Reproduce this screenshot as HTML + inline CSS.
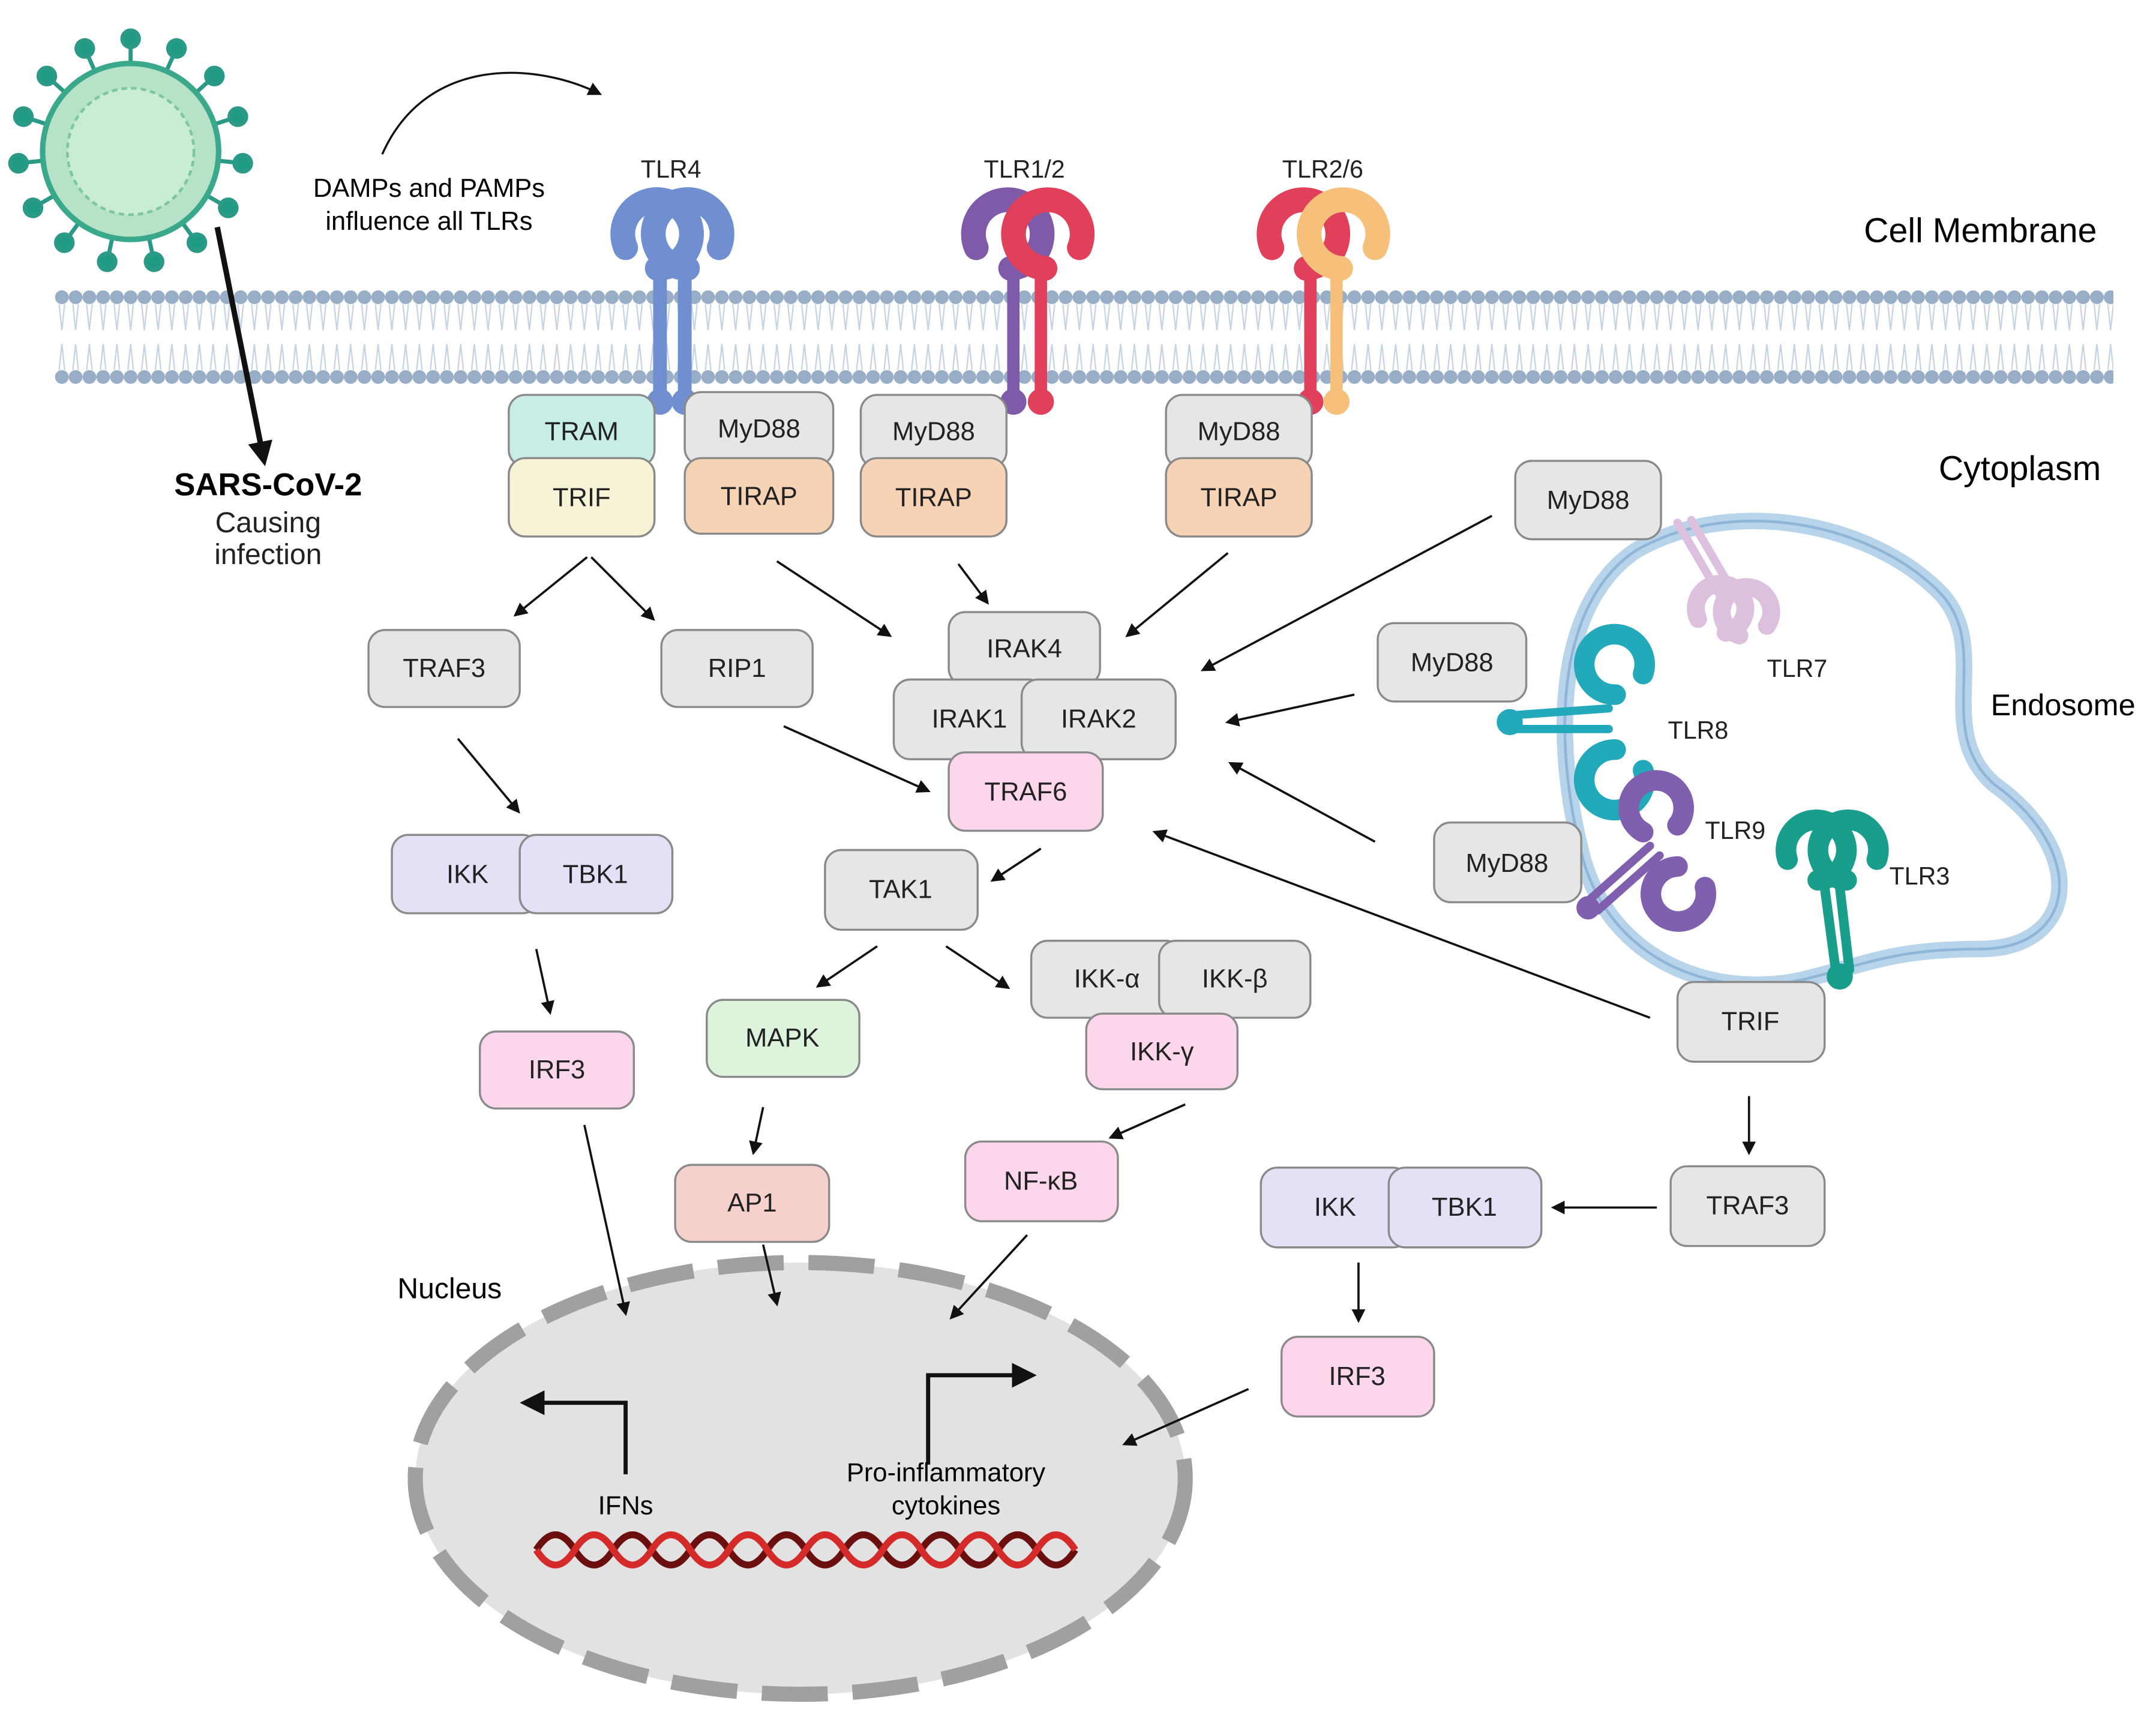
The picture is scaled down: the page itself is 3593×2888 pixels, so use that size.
<!DOCTYPE html>
<html><head><meta charset="utf-8"><style>
html,body{margin:0;padding:0;background:#fff;}
svg{display:block;}
text{font-family:"Liberation Sans",sans-serif;}
</style></head><body>
<svg width="3593" height="2888" viewBox="0 0 1568 1260" xmlns="http://www.w3.org/2000/svg">
<defs>
<marker id="ah" markerWidth="10" markerHeight="10" refX="8" refY="5" orient="auto" markerUnits="userSpaceOnUse">
<path d="M0,0 L10,5 L0,10 z" fill="#111"/></marker>
<marker id="ahb" markerWidth="18" markerHeight="18" refX="14" refY="9" orient="auto" markerUnits="userSpaceOnUse">
<path d="M0,0 L18,9 L0,18 z" fill="#111"/></marker>
<pattern id="dots" x="0" y="0" width="10" height="70" patternUnits="userSpaceOnUse">
<circle cx="5" cy="6" r="5" fill="#98aec6"/><circle cx="5" cy="64" r="5" fill="#98aec6"/>
<path d="M3,11 L5,30 M7,11 L5,30 M3,59 L5,40 M7,59 L5,40" stroke="#c6d4e2" stroke-width="1"/>
</pattern>
</defs>
<rect width="1568" height="1260" fill="#fff"/>

<rect x="40" y="211" width="1497" height="70" fill="url(#dots)"/>

<path d="M1190,400 C1260,360 1360,380 1410,430 C1450,470 1405,530 1450,570 C1520,620 1510,690 1440,690 C1380,690 1360,700 1320,710 C1250,730 1170,700 1150,620 C1130,540 1130,440 1190,400 Z" fill="#fff" stroke="#b8d4ea" stroke-width="12"/>
<path d="M1190,400 C1260,360 1360,380 1410,430 C1450,470 1405,530 1450,570 C1520,620 1510,690 1440,690 C1380,690 1360,700 1320,710 C1250,730 1170,700 1150,620 C1130,540 1130,440 1190,400 Z" fill="none" stroke="#8fb6d8" stroke-width="2"/>

<ellipse cx="582" cy="1075" rx="280" ry="157" fill="#e2e2e2"/>
<ellipse cx="582" cy="1075" rx="280" ry="157" fill="none" stroke="#a0a0a0" stroke-width="11" stroke-dasharray="48 18"/>

<g fill="none" stroke-width="5">
<path d="M390,1127 q14,-22 28,0 t28,0 t28,0 t28,0 t28,0 t28,0 t28,0 t28,0 t28,0 t28,0 t28,0 t28,0 t28,0 t28,0" stroke="#6b0f0f"/>
<path d="M390,1127 q14,22 28,0 t28,0 t28,0 t28,0 t28,0 t28,0 t28,0 t28,0 t28,0 t28,0 t28,0 t28,0 t28,0 t28,0" stroke="#d42a2a"/>
</g>

<path d="M455,1072 V1020 H382" fill="none" stroke="#111" stroke-width="3" marker-end="url(#ahb)"/>
<path d="M675,1065 V1000 H750" fill="none" stroke="#111" stroke-width="3" marker-end="url(#ahb)"/>
<text x="455" y="1101" font-size="19" text-anchor="middle">IFNs</text>
<text x="688" y="1077" font-size="19" text-anchor="middle">Pro-inflammatory</text>
<text x="688" y="1101" font-size="19" text-anchor="middle">cytokines</text>

<g transform="translate(95,110)">
<g stroke="#2a9a86" stroke-width="3" fill="#1f9a85">
<line x1="0" y1="-62" x2="0" y2="-80"/><circle cx="0" cy="-82" r="6"/>
<g transform="rotate(24)"><line x1="0" y1="-62" x2="0" y2="-80"/><circle cx="0" cy="-82" r="6"/></g>
<g transform="rotate(48)"><line x1="0" y1="-62" x2="0" y2="-80"/><circle cx="0" cy="-82" r="6"/></g>
<g transform="rotate(72)"><line x1="0" y1="-62" x2="0" y2="-80"/><circle cx="0" cy="-82" r="6"/></g>
<g transform="rotate(96)"><line x1="0" y1="-62" x2="0" y2="-80"/><circle cx="0" cy="-82" r="6"/></g>
<g transform="rotate(120)"><line x1="0" y1="-62" x2="0" y2="-80"/><circle cx="0" cy="-82" r="6"/></g>
<g transform="rotate(144)"><line x1="0" y1="-62" x2="0" y2="-80"/><circle cx="0" cy="-82" r="6"/></g>
<g transform="rotate(168)"><line x1="0" y1="-62" x2="0" y2="-80"/><circle cx="0" cy="-82" r="6"/></g>
<g transform="rotate(192)"><line x1="0" y1="-62" x2="0" y2="-80"/><circle cx="0" cy="-82" r="6"/></g>
<g transform="rotate(216)"><line x1="0" y1="-62" x2="0" y2="-80"/><circle cx="0" cy="-82" r="6"/></g>
<g transform="rotate(240)"><line x1="0" y1="-62" x2="0" y2="-80"/><circle cx="0" cy="-82" r="6"/></g>
<g transform="rotate(264)"><line x1="0" y1="-62" x2="0" y2="-80"/><circle cx="0" cy="-82" r="6"/></g>
<g transform="rotate(288)"><line x1="0" y1="-62" x2="0" y2="-80"/><circle cx="0" cy="-82" r="6"/></g>
<g transform="rotate(312)"><line x1="0" y1="-62" x2="0" y2="-80"/><circle cx="0" cy="-82" r="6"/></g>
<g transform="rotate(336)"><line x1="0" y1="-62" x2="0" y2="-80"/><circle cx="0" cy="-82" r="6"/></g>
</g>
<circle r="64" fill="#b6e2c8" stroke="#3aa88a" stroke-width="4"/>
<circle r="46" fill="#c8ecd4" stroke="#7cc6a0" stroke-width="2" stroke-dasharray="4 3"/>
</g>
<line x1="158" y1="165" x2="192" y2="335" stroke="#111" stroke-width="4" marker-end="url(#ahb)"/>
<text x="195" y="360" font-size="23" font-weight="bold" text-anchor="middle">SARS-CoV-2</text>
<text x="195" y="387" font-size="21" text-anchor="middle" fill="#222">Causing</text>
<text x="195" y="410" font-size="21" text-anchor="middle" fill="#222">infection</text>

<path d="M278,112 C310,40 390,45 436,68" fill="none" stroke="#111" stroke-width="1.5" marker-end="url(#ah)"/>
<text x="312" y="143" font-size="19" text-anchor="middle">DAMPs and PAMPs</text>
<text x="312" y="167" font-size="19" text-anchor="middle">influence all TLRs</text>

<text x="1525" y="176" font-size="25" text-anchor="end">Cell Membrane</text>
<text x="1528" y="349" font-size="25" text-anchor="end">Cytoplasm</text>
<text x="1553" y="520" font-size="22" text-anchor="end">Endosome</text>
<text x="327" y="944" font-size="21" text-anchor="middle">Nucleus</text>

<g stroke-linecap="round" fill="none">
<g stroke="#6f8fd0">
<path d="M455,180 A25,25 0 1 1 478,195" stroke-width="18"/><path d="M523,180 A25,25 0 1 0 500,195" stroke-width="18"/>
<path d="M480,200 V290 M498,200 V290" stroke-width="10"/>
<circle cx="480" cy="292" r="9" fill="#6f8fd0"/><circle cx="498" cy="292" r="9" fill="#6f8fd0"/>
</g>
<g stroke="#7e5aa8"><path d="M710,180 A25,25 0 1 1 735,195" stroke-width="18"/><path d="M737,200 V290" stroke-width="9"/><circle cx="737" cy="292" r="9" fill="#7e5aa8"/></g>
<g stroke="#e0405a"><path d="M785,180 A25,25 0 1 0 760,195" stroke-width="18"/><path d="M757,200 V290" stroke-width="9"/><circle cx="757" cy="292" r="9" fill="#e0405a"/></g>
<g stroke="#e0405a"><path d="M925,180 A25,25 0 1 1 950,195" stroke-width="18"/><path d="M953,200 V290" stroke-width="9"/><circle cx="953" cy="292" r="9" fill="#e0405a"/></g>
<g stroke="#f7c07a"><path d="M1000,180 A25,25 0 1 0 975,195" stroke-width="18"/><path d="M972,200 V290" stroke-width="9"/><circle cx="972" cy="292" r="9" fill="#f7c07a"/></g>
<g stroke="#dcc0de"><path d="M1220,380 L1255,440" stroke-width="6"/><path d="M1230,378 L1265,438" stroke-width="6"/><path d="M1235,450 A18,18 0 1 1 1255,460" stroke-width="13"/><path d="M1285,455 A18,18 0 1 0 1265,462" stroke-width="13"/></g>
<g stroke="#22aabb"><path d="M1100,520 L1170,515 M1100,530 L1170,530" stroke-width="6"/><path d="M1175,505 A22,22 0 1 1 1195,490" stroke-width="15"/><path d="M1175,545 A22,22 0 1 0 1195,560" stroke-width="15"/><circle cx="1098" cy="525" r="9" fill="#22aabb"/></g>
<g stroke="#7f5fae"><path d="M1155,655 L1200,615 M1162,662 L1207,622" stroke-width="6"/><path d="M1195,605 A20,20 0 1 1 1220,600" stroke-width="15"/><path d="M1220,630 A20,20 0 1 0 1240,645" stroke-width="15"/><circle cx="1155" cy="660" r="8" fill="#7f5fae"/></g>
<g stroke="#1a9e8c"><path d="M1300,625 A22,22 0 1 1 1322,640" stroke-width="15"/><path d="M1365,625 A22,22 0 1 0 1343,640" stroke-width="15"/><path d="M1327,645 L1335,705 M1338,645 L1345,705" stroke-width="7"/><circle cx="1338" cy="710" r="9" fill="#1a9e8c"/></g>
</g>
<g font-size="18" fill="#222">
<text x="488" y="129" text-anchor="middle">TLR4</text>
<text x="745" y="129" text-anchor="middle">TLR1/2</text>
<text x="962" y="129" text-anchor="middle">TLR2/6</text>
<text x="1285" y="492">TLR7</text>
<text x="1213" y="537">TLR8</text>
<text x="1240" y="610">TLR9</text>
<text x="1374" y="643">TLR3</text>
</g>

<g stroke="#111" stroke-width="1.6" marker-end="url(#ah)">
<line x1="427" y1="405" x2="375" y2="447"/><line x1="430" y1="405" x2="475" y2="450"/>
<line x1="565" y1="408" x2="647" y2="462"/><line x1="697" y1="410" x2="718" y2="438"/>
<line x1="893" y1="402" x2="820" y2="462"/>
<line x1="1085" y1="375" x2="875" y2="487"/><line x1="985" y1="505" x2="893" y2="525"/>
<line x1="1000" y1="612" x2="895" y2="555"/><line x1="1200" y1="740" x2="840" y2="605"/>
<line x1="570" y1="528" x2="675" y2="575"/><line x1="333" y1="537" x2="377" y2="590"/>
<line x1="757" y1="617" x2="722" y2="640"/><line x1="638" y1="688" x2="595" y2="717"/>
<line x1="688" y1="688" x2="733" y2="718"/><line x1="390" y1="690" x2="400" y2="736"/>
<line x1="555" y1="805" x2="548" y2="838"/><line x1="862" y1="803" x2="808" y2="827"/>
<line x1="1272" y1="797" x2="1272" y2="838"/><line x1="1205" y1="878" x2="1130" y2="878"/>
<line x1="988" y1="918" x2="988" y2="960"/><line x1="425" y1="818" x2="455" y2="955"/>
<line x1="747" y1="898" x2="692" y2="958"/><line x1="555" y1="905" x2="565" y2="948"/>
<line x1="908" y1="1010" x2="818" y2="1050"/>
</g>

<g stroke="#8a8a8a" stroke-width="1.5" font-size="19">
<rect x="370" y="287" width="106" height="52" rx="12" fill="#c8ece6"/>
<rect x="370" y="333" width="106" height="57" rx="12" fill="#f6f3d6"/>
<rect x="498" y="285" width="108" height="53" rx="12" fill="#e6e6e6"/>
<rect x="498" y="333" width="108" height="55" rx="12" fill="#f6d3b5"/>
<rect x="626" y="287" width="106" height="53" rx="12" fill="#e6e6e6"/>
<rect x="626" y="333" width="106" height="57" rx="12" fill="#f6d3b5"/>
<rect x="848" y="287" width="106" height="53" rx="12" fill="#e6e6e6"/>
<rect x="848" y="333" width="106" height="57" rx="12" fill="#f6d3b5"/>
<rect x="1102" y="335" width="106" height="57" rx="12" fill="#e6e6e6"/>
<rect x="268" y="458" width="110" height="56" rx="12" fill="#e6e6e6"/>
<rect x="481" y="458" width="110" height="56" rx="12" fill="#e6e6e6"/>
<rect x="690" y="445" width="110" height="53" rx="12" fill="#e6e6e6"/>
<rect x="650" y="494" width="110" height="58" rx="12" fill="#e6e6e6"/>
<rect x="743" y="494" width="112" height="58" rx="12" fill="#e6e6e6"/>
<rect x="690" y="547" width="112" height="57" rx="12" fill="#fcd6ea"/>
<rect x="1002" y="453" width="108" height="57" rx="12" fill="#e6e6e6"/>
<rect x="1043" y="598" width="107" height="58" rx="12" fill="#e6e6e6"/>
<rect x="600" y="618" width="111" height="58" rx="12" fill="#e6e6e6"/>
<rect x="285" y="607" width="107" height="57" rx="12" fill="#e6e0f6"/>
<rect x="378" y="607" width="111" height="57" rx="12" fill="#e6e0f6"/>
<rect x="750" y="684" width="110" height="56" rx="12" fill="#e6e6e6"/>
<rect x="843" y="684" width="110" height="56" rx="12" fill="#e6e6e6"/>
<rect x="790" y="737" width="110" height="55" rx="12" fill="#fcd6ea"/>
<rect x="514" y="727" width="111" height="56" rx="12" fill="#dcf3dc"/>
<rect x="349" y="750" width="112" height="56" rx="12" fill="#fcd6ea"/>
<rect x="491" y="847" width="112" height="56" rx="12" fill="#f6d0cc"/>
<rect x="702" y="830" width="111" height="58" rx="12" fill="#fcd6ea"/>
<rect x="1220" y="714" width="107" height="58" rx="12" fill="#e6e6e6"/>
<rect x="1215" y="848" width="112" height="58" rx="12" fill="#e6e6e6"/>
<rect x="917" y="849" width="108" height="58" rx="12" fill="#e6e0f6"/>
<rect x="1010" y="849" width="111" height="58" rx="12" fill="#e6e0f6"/>
<rect x="932" y="972" width="111" height="58" rx="12" fill="#fcd6ea"/>
</g>
<g font-size="19" text-anchor="middle" fill="#222">
<text x="423" y="320">TRAM</text><text x="423" y="368">TRIF</text>
<text x="552" y="318">MyD88</text><text x="552" y="367">TIRAP</text>
<text x="679" y="320">MyD88</text><text x="679" y="368">TIRAP</text>
<text x="901" y="320">MyD88</text><text x="901" y="368">TIRAP</text>
<text x="1155" y="370">MyD88</text>
<text x="323" y="492">TRAF3</text><text x="536" y="492">RIP1</text>
<text x="745" y="478">IRAK4</text><text x="705" y="529">IRAK1</text><text x="799" y="529">IRAK2</text>
<text x="746" y="582">TRAF6</text>
<text x="1056" y="488">MyD88</text><text x="1096" y="634">MyD88</text>
<text x="655" y="653">TAK1</text>
<text x="340" y="642">IKK</text><text x="433" y="642">TBK1</text>
<text x="805" y="718">IKK-α</text><text x="898" y="718">IKK-β</text><text x="845" y="771">IKK-γ</text>
<text x="569" y="761">MAPK</text><text x="405" y="784">IRF3</text>
<text x="547" y="881">AP1</text><text x="757" y="865">NF-κB</text>
<text x="1273" y="749">TRIF</text><text x="1271" y="883">TRAF3</text>
<text x="971" y="884">IKK</text><text x="1065" y="884">TBK1</text>
<text x="987" y="1007">IRF3</text>
</g>
</svg>
</body></html>
